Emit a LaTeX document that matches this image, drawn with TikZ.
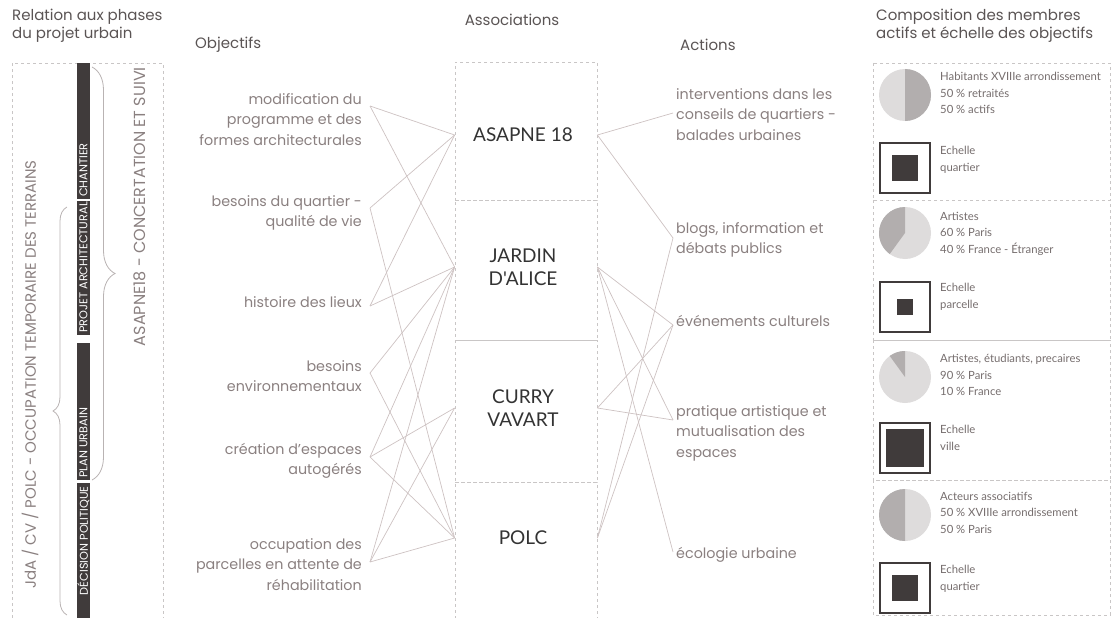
\documentclass[tikz,border=0pt]{standalone}
\usepackage{fontspec}
\setmainfont{Poppins}
\newfontfamily\assofont{Lato}
\newfontfamily\smallfont{Lato}
\usetikzlibrary{positioning, decorations.pathreplacing}

\definecolor{txtgray}{HTML}{8A8080}
\definecolor{titlegray}{HTML}{5A5454}
\definecolor{linkgray}{HTML}{CDC2C2}
\definecolor{dashgray}{HTML}{C9C6C6}
\definecolor{bardark}{HTML}{403B3B}
\definecolor{pielight}{HTML}{DEDCDC}
\definecolor{piedark}{HTML}{B2AEAE}

\tikzset{
  frame/.style={draw=dashgray, dash pattern=on 3pt off 3pt, line width=0.8pt, inner sep=0pt},
  link/.style={draw=linkgray, line width=0.7pt},
  title/.style={text=titlegray, font=\fontsize{15}{18}\selectfont, inner sep=0pt},
  goal/.style={text=txtgray, font=\fontsize{14.3}{20.5}\selectfont, align=right, anchor=north east, inner sep=0pt},
  action/.style={text=txtgray, font=\fontsize{14.3}{20.5}\selectfont, align=left, anchor=north west, inner sep=0pt},
  asso/.style={text=black!80, font=\assofont\fontsize{19}{23}\selectfont, align=center, inner sep=0pt},
  bartext/.style={text=white, font=\fontsize{11.3}{12}\selectfont, rotate=90, inner sep=0pt},
  sidetext/.style={text=txtgray, font=\fontsize{15}{16}\selectfont, rotate=90, inner sep=0pt},
  member/.style={text=txtgray!85!black, font=\smallfont\fontsize{11.3}{16.5}\selectfont, align=left, anchor=north west, inner sep=0pt},
  brace/.style={draw=txtgray!60, line width=0.8pt, decorate}
}

\begin{document}
\begin{tikzpicture}[x=1pt, y=1pt]
  \useasboundingbox (0,0) rectangle (1113,-618);

  % titles
  \node[title, anchor=north west, align=left] (t-phases) at (12,-9) {Relation aux phases\\du projet urbain};
  \node[title, anchor=west] (t-obj) at (195,-45) {Objectifs};
  \node[title] (t-asso) at (512,-20) {Associations};
  \node[title, anchor=west] (t-act) at (680,-45) {Actions};
  \node[title, anchor=north west, align=left] (t-comp) at (876,-9) {Composition des membres\\actifs et échelle des objectifs};

  % phases of the urban project
  \draw[frame] (12,-630) -- (12,-63) -- (163,-63) -- (163,-630);
  \foreach \top/\bot/\lbl in {63/199/CHANTIER, 201/335/PROJET ARCHITECTURAL, 343/480/PLAN URBAIN} {
    \fill[bardark] (77,-\top) rectangle (90,-\bot);
    \node[bartext, anchor=west] at (83.5,-\bot+2) {\lbl};
  }
  \fill[bardark] (77,-483) rectangle (90,-630);
  \node[bartext, anchor=east] (decision) at (83.5,-486) {DÉCISION POLITIQUE};
  \draw[brace, decoration={brace, amplitude=14pt}] (67,-615) -- (67,-207);
  \draw[brace, decoration={brace, amplitude=23pt}] (92,-67) -- (92,-480);
  \node[sidetext, anchor=east] (occupation-txt) at (30,-160) {JdA / CV / POLC - OCCUPATION TEMPORAIRE DES TERRAINS};
  \node[sidetext, font=\fontsize{16}{17}\selectfont, anchor=east] (suivi-txt) at (140,-67) {ASAPNE18 - CONCERTATION ET SUIVI};

  % objectives
  \node[goal] (modif) at (362,-93) {modification du\\programme et des\\formes architecturales};
  \node[goal] (quartier) at (362,-195) {besoins du quartier -\\qualité de vie};
  \node[goal] (histoire) at (362,-296) {histoire des lieux};
  \node[goal] (env) at (362,-360) {besoins\\environnementaux};
  \node[goal] (creation) at (362,-443) {création d'espaces\\autogérés};
  \node[goal] (occupation) at (362,-538) {occupation des\\parcelles en attente de\\réhabilitation};
  \coordinate (o-modif) at (370,-106);
  \coordinate (o-quartier) at (370,-208);
  \coordinate (o-histoire) at (370,-306);
  \coordinate (o-env) at (370,-373);
  \coordinate (o-creation) at (370,-457);
  \coordinate (o-occupation) at (370,-562);

  % associations
  \node[frame, minimum width=142pt, minimum height=138pt] (bx-asapne) at (526,-131) {};
  \node[frame, minimum width=142pt, minimum height=140pt] (bx-jardin) at (526,-270) {};
  \node[frame, minimum width=142pt, minimum height=142pt] (bx-curry) at (526,-411) {};
  \node[frame, minimum width=142pt, minimum height=140pt] (bx-polc) at (526,-552) {};
  \node[asso] (asapne) at (523,-135) {ASAPNE 18};
  \node[asso] (jardin) at (523,-267) {JARDIN\\D'ALICE};
  \node[asso] (curry) at (523,-408) {CURRY\\VAVART};
  \node[asso] (polc) at (523,-538) {POLC};

  % actions
  \node[action] (interv) at (676,-88) {interventions dans les\\conseils de quartiers -\\balades urbaines};
  \node[action] (blogs) at (676,-222) {blogs, information et\\débats publics};
  \node[action] (evts) at (676,-315) {événements culturels};
  \node[action] (pratique) at (676,-405) {pratique artistique et\\mutualisation des\\espaces};
  \node[action] (ecologie) at (676,-547) {écologie urbaine};
  \coordinate (t-interv) at (673,-113);
  \coordinate (t-blogs) at (673,-238);
  \coordinate (t-evts) at (673,-325);
  \coordinate (t-pratique) at (673,-420);
  \coordinate (t-ecologie) at (673,-552);

  % links
  \foreach \o/\a in {modif/asapne, modif/jardin, quartier/asapne, quartier/polc, histoire/asapne, histoire/jardin, env/jardin, env/polc, creation/jardin, creation/curry, creation/polc, occupation/jardin, occupation/curry, occupation/polc}
    \draw[link] (o-\o) -- (\a -| bx-\a.west);
  \foreach \a/\t in {asapne/interv, asapne/blogs, jardin/evts, jardin/pratique, jardin/ecologie, curry/evts, curry/pratique, polc/blogs, polc/evts}
    \draw[link] (\a -| bx-\a.east) -- (t-\t);

  % members and scale
  \foreach \top/\bot in {63/200, 200/340, 340/480, 480/615}
    \draw[frame] (873,-\top) rectangle (1110,-\bot);
  \foreach \yc/\a/\b in {95/-90/90, 233/90/234, 377/90/126, 515/90/270} {
    \fill[pielight] (905,-\yc) circle (26);
    \fill[piedark] (905,-\yc) -- ++(\a:26) arc[start angle=\a, end angle=\b, radius=26] -- cycle;
  }
  \foreach \yc/\s in {168/13, 307/8, 448/19, 588/13} {
    \draw[bardark, line width=1.6pt] (880,-\yc-25) rectangle (930,-\yc+25);
    \fill[bardark] (905-\s,-\yc-\s) rectangle (905+\s,-\yc+\s);
  }
  \node[member] (m1) at (940,-72) {Habitants XVIIIe arrondissement\\50 \% retraités\\50 \% actifs};
  \node[member] (e1) at (940,-146) {Echelle\\quartier};
  \node[member] (m2) at (940,-212) {Artistes\\60 \% Paris\\40 \% France - Étranger};
  \node[member] (e2) at (940,-283) {Echelle\\parcelle};
  \node[member] (m3) at (940,-354) {Artistes, étudiants, precaires\\90 \% Paris\\10 \% France};
  \node[member] (e3) at (940,-425) {Echelle\\ville};
  \node[member] (m4) at (940,-492) {Acteurs associatifs\\50 \% XVIIIe arrondissement\\50 \% Paris};
  \node[member] (e4) at (940,-565) {Echelle\\quartier};
\end{tikzpicture}
\end{document}
